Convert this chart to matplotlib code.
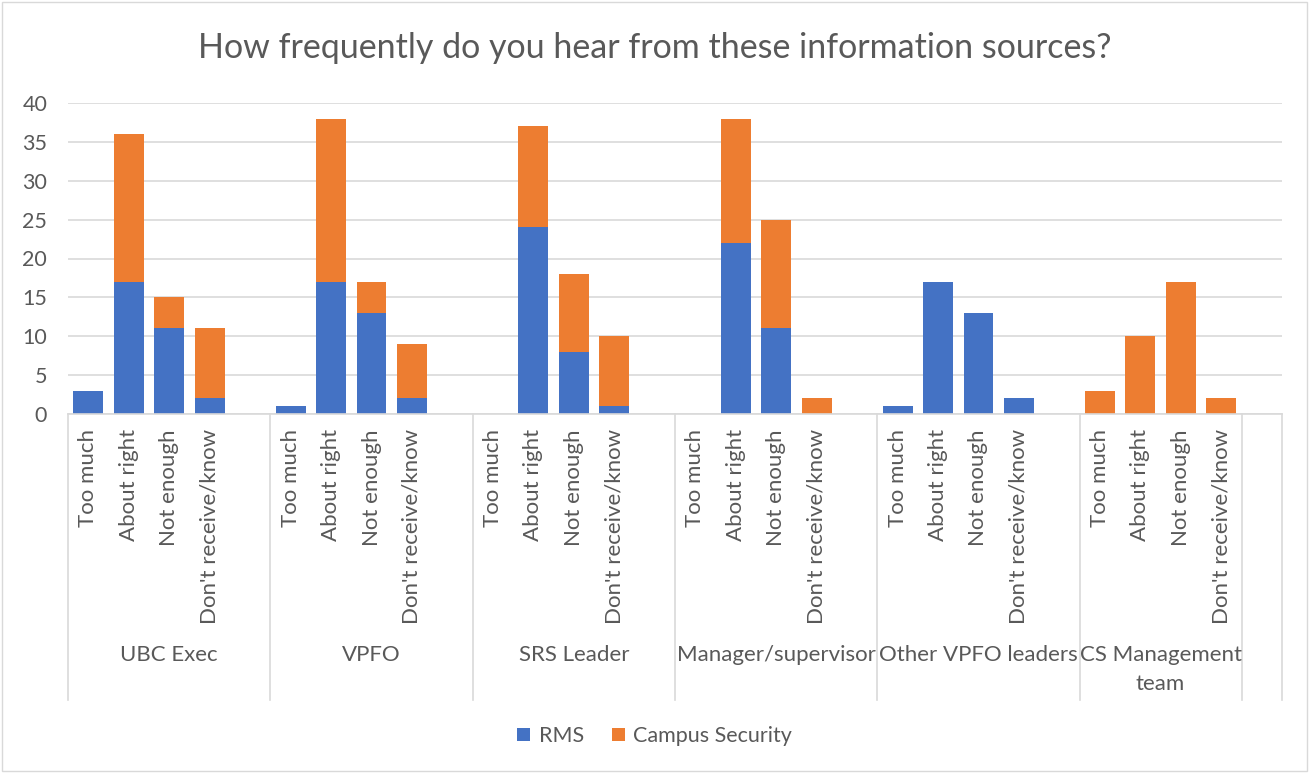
import matplotlib
matplotlib.use("Agg")
import matplotlib.pyplot as plt
from matplotlib.patches import Rectangle
import numpy as np

plt.rcParams['font.family'] = ['Lato', 'DejaVu Sans']

# Data
groups = ["UBC Exec", "VPFO", "SRS Leader", "Manager/supervisor",
          "Other VPFO leaders", "CS Management\nteam"]
responses = ["Too much", "About right", "Not enough", "Don't receive/know"]
rms = [3, 17, 11, 2,
       1, 17, 13, 2,
       0, 24, 8, 1,
       0, 22, 11, 0,
       1, 17, 13, 2,
       0, 0, 0, 0]
campus_security = [0, 19, 4, 9,
                   0, 21, 4, 7,
                   0, 13, 10, 9,
                   0, 16, 14, 2,
                   0, 0, 0, 0,
                   3, 10, 17, 2]

BLUE = '#4472C4'
ORANGE = '#ED7D31'
GRID = '#D9D9D9'
TEXT = '#595959'

W, H = 1309, 773
fig = plt.figure(figsize=(W / 100, H / 100), dpi=100)
ax = fig.add_axes([68 / W, 1 - 414 / H, (1282 - 68) / W, (414 - 103) / H])

# each group takes 5 slots (4 answers + a blank); the last one has a trailing blank group
n_resp = len(responses)
slots = []
for g in range(len(groups)):
    for i in range(n_resp):
        slots.append(g * (n_resp + 1) + i + 0.5)
slots = np.array(slots)
rms = np.array(rms)
cs = np.array(campus_security)

ax.bar(slots, rms, width=0.74, color=BLUE, linewidth=0, label='RMS', zorder=2)
ax.bar(slots, cs, bottom=rms, width=0.74, color=ORANGE, linewidth=0,
       label='Campus Security', zorder=2)

total_slots = len(groups) * (n_resp + 1)
ax.set_xlim(0, total_slots)
ax.set_ylim(0, 40)
ax.set_yticks(range(0, 41, 5))
ax.tick_params(axis='y', length=0, labelsize=15.5, colors=TEXT, pad=15)
ax.set_xticks([])
ax.grid(axis='y', color=GRID, linewidth=1.2, zorder=0)
ax.set_axisbelow(True)
for s in ['top', 'right', 'left']:
    ax.spines[s].set_visible(False)
ax.spines['bottom'].set_color(GRID)
ax.spines['bottom'].set_linewidth(1.2)

# two-level category axis
tr = ax.get_xaxis_transform()
ax_h = 414 - 103
for x, lab in zip(slots, responses * len(groups)):
    ax.text(x, -15 / ax_h, lab, transform=tr, rotation=90, ha='center', va='top',
            fontsize=16, color=TEXT, clip_on=False)

seps = [g * (n_resp + 1) for g in range(len(groups))]
seps += [seps[-1] + n_resp, total_slots]
for s in seps:
    ax.plot([s, s], [0, -(700 - 414) / ax_h], transform=tr, color=GRID,
            linewidth=1.2, clip_on=False)

for g, name in enumerate(groups):
    start = g * (n_resp + 1)
    end = start + (n_resp if g == len(groups) - 1 else n_resp + 1)
    ax.text((start + end) / 2, -(645 - 414) / ax_h, name, transform=tr,
            ha='center', va='top', fontsize=16, color=TEXT, clip_on=False,
            linespacing=1.55)

fig.text(0.5, 1 - 48 / H, "How frequently do you hear from these information sources?",
         ha='center', va='center', fontsize=24.5, color=TEXT)

fig.legend(loc='center', bbox_to_anchor=(0.5, 1 - 736 / H), ncol=2, frameon=False,
           fontsize=15.5, labelcolor=TEXT, handlelength=0.6, handleheight=0.6,
           handletextpad=0.4, columnspacing=1.3)

fig.patches.append(Rectangle((2 / W, 2 / H), 1 - 4 / W, 1 - 4 / H, transform=fig.transFigure,
                             fill=False, edgecolor=GRID, linewidth=1))

fig.savefig('out.png', dpi=100)
